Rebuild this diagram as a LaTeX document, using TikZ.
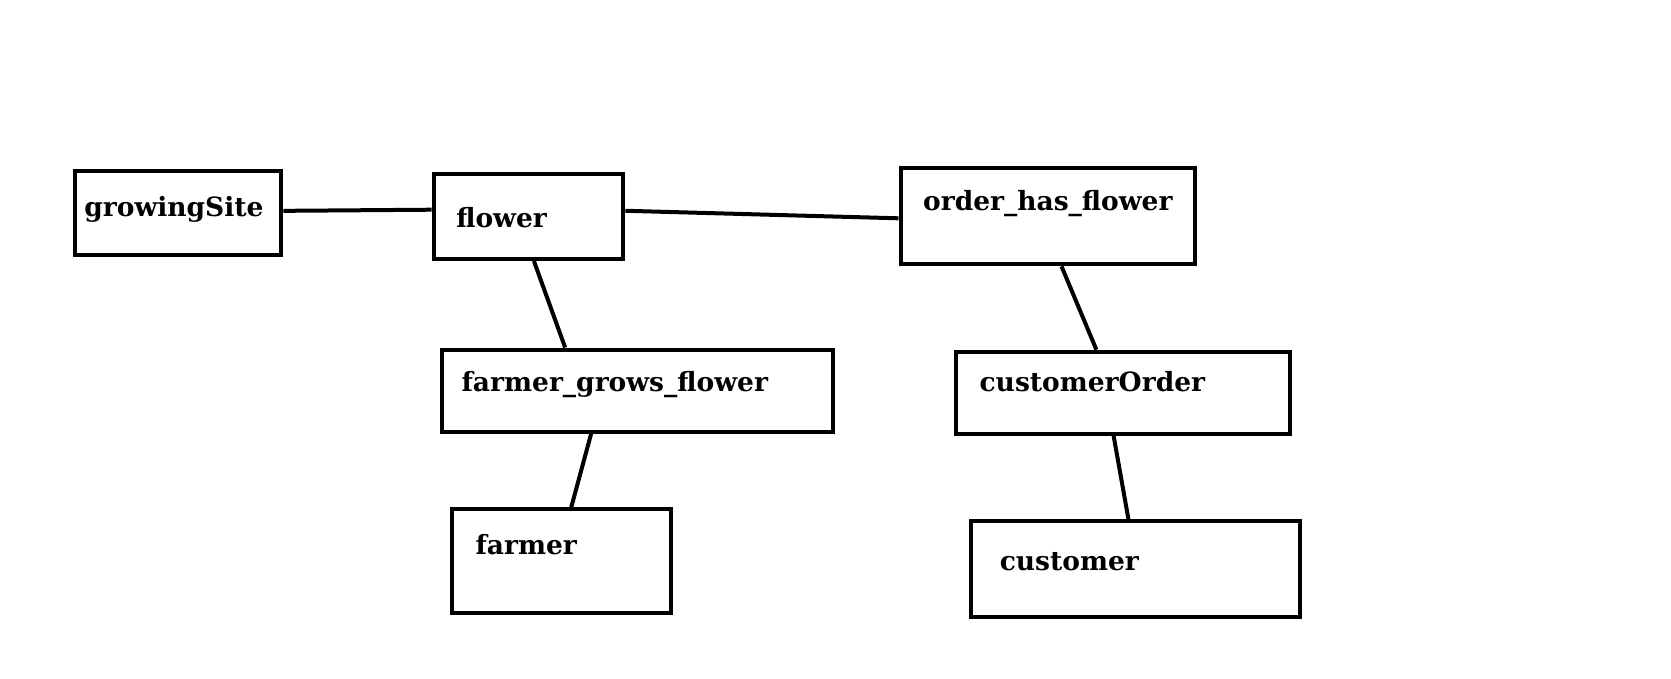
\documentclass[tikz,border=0pt]{standalone}
\usepackage{fontspec}
\setmainfont{DejaVu Serif}
\usetikzlibrary{calc}
\tikzset{
  box/.style={draw=black, line width=4pt, rectangle, inner sep=0pt, fill=none},
  lbl/.style={anchor=base west, inner sep=0pt, font=\fontsize{26.5}{30}\selectfont\bfseries},
  link/.style={draw=black, line width=4pt},
}
\begin{document}
\begin{tikzpicture}[x=1pt, y=-1pt]
\useasboundingbox[fill=white] (0,0) rectangle (1671,678);
% boxes
\node[box, minimum width=206.7pt, minimum height=84.2pt] (gs) at (178,212.6) {};
\node[box, minimum width=189.7pt, minimum height=85.3pt] (fl) at (528.5,216.4) {};
\node[box, minimum width=294pt, minimum height=96pt] (ohf) at (1047.5,216.3) {};
\node[box, minimum width=391pt, minimum height=82pt] (fgf) at (637.8,390.5) {};
\node[box, minimum width=333.6pt, minimum height=82pt] (co) at (1122.7,392.7) {};
\node[box, minimum width=219.5pt, minimum height=103.4pt] (fa) at (561.6,561.1) {};
\node[box, minimum width=329.3pt, minimum height=96pt] (cu) at (1135.4,569) {};
% labels
\node[lbl] (tgs) at (84.2,216) {growingSite};
\node[lbl] (tfl) at (456.1,227) {flower};
\node[lbl] (tohf) at (922.9,210) {order\_has\_flower};
\node[lbl] (tfgf) at (461.4,391) {farmer\_grows\_flower};
\node[lbl] (tco) at (979.4,391) {customerOrder};
\node[lbl] (tfa) at (475.3,554) {farmer};
\node[lbl] (tcu) at (999.6,570) {customer};
% connectors
\draw[link] ($(gs.north east)!0.48!(gs.south east)$) -- ($(fl.north west)!0.425!(fl.south west)$);
\draw[link] ($(fl.north east)!0.437!(fl.south east)$) -- ($(ohf.north west)!0.52!(ohf.south west)$);
\draw[link] ($(fl.south west)!0.528!(fl.south east)$) -- ($(fgf.north west)!0.316!(fgf.north east)$);
\draw[link] ($(fgf.south west)!0.382!(fgf.south east)$) -- ($(fa.north west)!0.543!(fa.north east)$);
\draw[link] ($(ohf.south west)!0.547!(ohf.south east)$) -- ($(co.north west)!0.422!(co.north east)$);
\draw[link] ($(co.south west)!0.473!(co.south east)$) -- ($(cu.north west)!0.479!(cu.north east)$);
\end{tikzpicture}
\end{document}
